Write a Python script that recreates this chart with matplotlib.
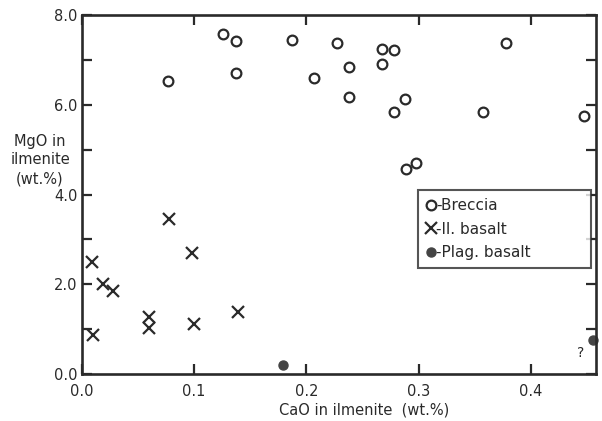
import matplotlib
matplotlib.use("Agg")
import matplotlib.pyplot as plt
from matplotlib.lines import Line2D

# === Daten ===
breccia_cao = [0.077, 0.126, 0.137, 0.137, 0.187, 0.207, 0.227, 0.238, 0.238, 0.267,
               0.278, 0.267, 0.278, 0.288, 0.289, 0.298, 0.357, 0.378, 0.447]
breccia_mgo = [6.53, 7.57, 7.42, 6.72, 7.44, 6.60, 7.37, 6.84, 6.17, 7.24,
               7.23, 6.90, 5.84, 6.13, 4.56, 4.71, 5.84, 7.37, 5.75]

ilbas_cao = [0.078, 0.098, 0.009, 0.019, 0.028, 0.010, 0.060, 0.060, 0.100, 0.139]
ilbas_mgo = [3.45, 2.69, 2.50, 2.00, 1.85, 0.87, 1.27, 1.02, 1.11, 1.38]

plag_cao = [0.179, 0.455]
plag_mgo = [0.20, 0.76]

x_ticks = [0.0, 0.1, 0.2, 0.3, 0.4]
x_ticklabels = ['0.0', '0.1', '0.2', '0.3', '0.4']
y_ticks = [0, 2, 4, 6, 8]
y_ticklabels = ['0.0', '2.0', '4.0', '6.0', '8.0']
y_minor = [1, 3, 5, 7]

legend_labels = ['-Breccia', '-Il. basalt', '-Plag. basalt']
ink = '#2a2a2a'

plt.rcParams['font.family'] = ['DejaVu Sans']

fig = plt.figure(figsize=(6.02, 4.21), dpi=100)
ax = fig.add_axes([0.136, 0.112, 0.854, 0.852])

ax.plot(breccia_cao, breccia_mgo, 'o', ms=7, mfc='none', mec=ink, mew=1.6, clip_on=False)
ax.plot(ilbas_cao, ilbas_mgo, 'x', ms=8, mec=ink, mew=1.6, clip_on=False)
ax.plot(plag_cao, plag_mgo, 'o', ms=6.5, mfc='#444444', mec='#444444', clip_on=False)
ax.text(0.444, 0.47, '?', fontsize=10, color=ink, ha='center', va='center')

ax.set_xlim(0, 0.458)
ax.set_ylim(0, 8.0)
ax.set_xticks(x_ticks)
ax.set_xticklabels(x_ticklabels)
ax.set_yticks(y_ticks)
ax.set_yticklabels(y_ticklabels)
ax.set_yticks(y_minor, minor=True)
ax.tick_params(which='both', direction='in', length=7, width=1.6, color=ink,
               top=True, right=True, labelsize=10.5, labelcolor=ink)
ax.tick_params(axis='x', pad=7)
ax.tick_params(axis='y', pad=3)
for s in ax.spines.values():
    s.set_linewidth(1.9)
    s.set_color(ink)

# Legende
handles = [
    Line2D([], [], ls='none', marker='o', ms=7, mfc='none', mec=ink, mew=1.6),
    Line2D([], [], ls='none', marker='x', ms=8, mec=ink, mew=1.6),
    Line2D([], [], ls='none', marker='o', ms=6.5, mfc='#444444', mec='#444444'),
]
leg = ax.legend(handles, legend_labels, loc='upper left',
                bbox_to_anchor=(0.654, 0.513, 0.336, 0.0), mode='expand',
                frameon=True, fancybox=False, handlelength=0.6, handletextpad=0.05,
                borderpad=0.55, labelspacing=0.55, fontsize=11, borderaxespad=0)
leg.get_frame().set_edgecolor(ink)
leg.get_frame().set_linewidth(1.5)
for t in leg.get_texts():
    t.set_color(ink)

fig.text(40 / 602, 1 - 160 / 421, 'MgO in\nilmenite\n(wt.%)', ha='center', va='center',
         fontsize=10.5, color=ink, linespacing=1.3)
fig.text(364 / 602, 1 - 410 / 421, 'CaO in ilmenite  (wt.%)', ha='center', va='center',
         fontsize=10.5, color=ink)

fig.savefig('out.png', dpi=100)
